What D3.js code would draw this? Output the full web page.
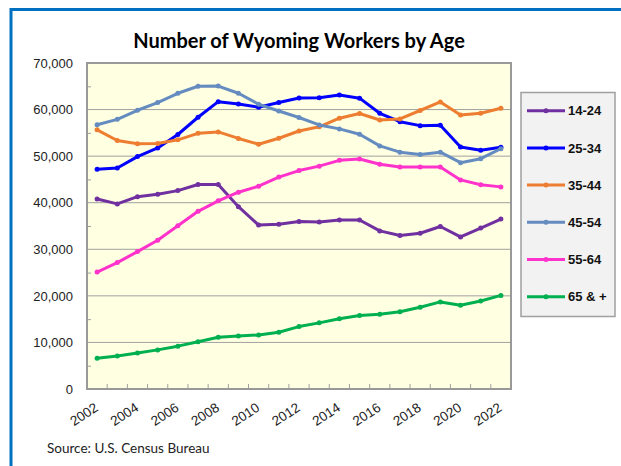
<!DOCTYPE html>
<html>
<head>
<meta charset="utf-8">
<script src="https://cdn.jsdelivr.net/npm/d3@7"></script>
<style>
  body { margin: 0; background: #fff; }
  svg { display: block; }
</style>
</head>
<body>
<svg id="chart" width="621" height="466"></svg>
<script>
// data
const years = [2002, 2003, 2004, 2005, 2006, 2007, 2008, 2009, 2010, 2011, 2012,
  2013, 2014, 2015, 2016, 2017, 2018, 2019, 2020, 2021, 2022];
const labelYears = [2002, 2004, 2006, 2008, 2010, 2012, 2014, 2016, 2018, 2020, 2022];
const yTickValues = [0, 10000, 20000, 30000, 40000, 50000, 60000, 70000];
const yMinorValues = [5000, 15000, 25000, 35000, 45000, 55000, 65000];

const seriesNames = ['14-24', '25-34', '35-44', '45-54', '55-64', '65 & +'];
const seriesColors = ['#7030a0', '#0000ff', '#ed7d31', '#658cc0', '#ff33cc', '#00b050'];

const age1424 = [40800, 39750, 41300, 41800, 42600, 43900, 43900, 39150, 35200, 35400, 35950,
  35850, 36300, 36300, 33950, 32950, 33450, 34900, 32650, 34550, 36500];
const age2534 = [47200, 47450, 49900, 51750, 54650, 58350, 61700, 61200, 60500, 61500, 62500,
  62550, 63150, 62450, 59200, 57400, 56550, 56650, 51950, 51250, 51900];
const age3544 = [55650, 53350, 52650, 52700, 53500, 54900, 55200, 53800, 52550, 53850, 55400,
  56300, 58150, 59150, 57750, 58000, 59800, 61650, 58850, 59200, 60300];
const age4554 = [56750, 57900, 59850, 61500, 63500, 65000, 65050, 63500, 61150, 59700, 58300,
  56700, 55850, 54700, 52200, 50850, 50350, 50850, 48600, 49450, 51600];
const age5564 = [25100, 27150, 29500, 31950, 35050, 38150, 40400, 42250, 43550, 45500, 46900,
  47850, 49100, 49400, 48250, 47650, 47650, 47650, 44900, 43850, 43400];
const age65 = [6600, 7100, 7750, 8400, 9200, 10150, 11100, 11400, 11600, 12200, 13400,
  14200, 15100, 15800, 16050, 16600, 17550, 18700, 18000, 18900, 20100];

const seriesValues = [age1424, age2534, age3544, age4554, age5564, age65];

const svg = d3.select('#chart');
const cs = {
  plot: { left: 87, right: 511, top: 63, bottom: 389 },
  font: '"Liberation Sans", Arial, sans-serif',
  grid: '#a0a0a0',
  legend: { x: 521, y: 92.5, w: 94, h: 224, first: 110.7, step: 37.2 },
};

const x = d3.scaleBand().domain(years).range([cs.plot.left, cs.plot.right]).padding(0);
const y = d3.scaleLinear().domain([0, 70000]).range([cs.plot.bottom, cs.plot.top]);
const cx = d => x(d) + x.bandwidth() / 2;

// outer blue frame
svg.append('rect')
  .attr('x', 11).attr('y', 9.5)
  .attr('width', 800).attr('height', 800)
  .attr('fill', 'none')
  .attr('stroke', '#0070c0')
  .attr('stroke-width', 3);

// title
svg.append('text')
  .attr('x', (cs.plot.left + cs.plot.right) / 2)
  .attr('y', 48)
  .attr('text-anchor', 'middle')
  .style('font-family', 'Lato, "Open Sans", sans-serif')
  .style('font-weight', 'bold')
  .style('font-size', '20px')
  .text('Number of Wyoming Workers by Age');

// plot background
svg.append('rect')
  .attr('x', cs.plot.left).attr('y', cs.plot.top)
  .attr('width', cs.plot.right - cs.plot.left)
  .attr('height', cs.plot.bottom - cs.plot.top)
  .attr('fill', '#ffffe1');

// gridlines
svg.append('g')
  .selectAll('line')
  .data(yTickValues.slice(1, -1))
  .join('line')
  .attr('x1', cs.plot.left).attr('x2', cs.plot.right)
  .attr('y1', d => y(d)).attr('y2', d => y(d))
  .attr('stroke', cs.grid)
  .attr('stroke-width', 1);

// y axis labels
const yAxis = svg.append('g')
  .attr('transform', `translate(${cs.plot.left},0)`)
  .call(d3.axisLeft(y).tickValues(yTickValues).tickSize(0).tickPadding(14)
    .tickFormat(d3.format(',')));
yAxis.select('.domain').remove();
yAxis.selectAll('text')
  .style('font-family', cs.font)
  .style('font-size', '13px')
  .attr('fill', '#222');

// minor y ticks (inside)
svg.append('g')
  .attr('transform', `translate(${cs.plot.left},0)`)
  .call(d3.axisRight(y).tickValues(yMinorValues).tickSize(4).tickFormat(''))
  .call(g => g.select('.domain').remove())
  .selectAll('line')
  .attr('stroke', cs.grid);

// x ticks at category boundaries (inside)
svg.append('g')
  .selectAll('line')
  .data(years.slice(1))
  .join('line')
  .attr('x1', d => x(d)).attr('x2', d => x(d))
  .attr('y1', cs.plot.bottom).attr('y2', cs.plot.bottom - 5)
  .attr('stroke', cs.grid);

// x labels
const xAxis = svg.append('g')
  .attr('transform', `translate(0,${cs.plot.bottom})`)
  .call(d3.axisBottom(x).tickValues(labelYears).tickSize(0).tickPadding(0));
xAxis.select('.domain').remove();
xAxis.selectAll('text')
  .style('font-family', cs.font)
  .style('font-size', '13.5px')
  .attr('fill', '#222')
  .attr('text-anchor', 'end')
  .attr('y', 0)
  .attr('dy', 0)
  .attr('transform', 'translate(2,21) rotate(-33)');

// plot frame
svg.append('rect')
  .attr('x', cs.plot.left).attr('y', cs.plot.top)
  .attr('width', cs.plot.right - cs.plot.left)
  .attr('height', cs.plot.bottom - cs.plot.top)
  .attr('fill', 'none')
  .attr('stroke', '#999')
  .attr('stroke-width', 2);

// series lines + markers
const line = d3.line().x((d, i) => cx(years[i])).y(d => y(d));
const series = svg.append('g')
  .selectAll('g')
  .data(seriesValues)
  .join('g')
  .attr('fill', (d, i) => seriesColors[i])
  .attr('stroke', (d, i) => seriesColors[i]);

series.append('path')
  .attr('d', d => line(d))
  .attr('fill', 'none')
  .attr('stroke-width', 3)
  .attr('stroke-linejoin', 'round');

series.selectAll('circle')
  .data(d => d)
  .join('circle')
  .attr('cx', (d, i) => cx(years[i]))
  .attr('cy', d => y(d))
  .attr('r', 2.5)
  .attr('stroke', 'none');

// legend
const lg = cs.legend;
svg.append('rect')
  .attr('x', lg.x).attr('y', lg.y)
  .attr('width', lg.w).attr('height', lg.h)
  .attr('fill', '#f2f2f2')
  .attr('stroke', '#a0a0a0')
  .attr('stroke-width', 1.5);

const items = svg.append('g')
  .selectAll('g')
  .data(seriesNames)
  .join('g')
  .attr('transform', (d, i) => `translate(0,${lg.first + i * lg.step})`);

items.append('line')
  .attr('x1', 527).attr('x2', 565)
  .attr('stroke', (d, i) => seriesColors[i])
  .attr('stroke-width', 3);

items.append('circle')
  .attr('cx', 546).attr('r', 2.5)
  .attr('fill', (d, i) => seriesColors[i]);

items.append('text')
  .attr('x', 568)
  .attr('dy', '0.36em')
  .style('font-family', cs.font)
  .style('font-weight', 'bold')
  .style('font-size', '13px')
  .attr('fill', '#111')
  .text(d => d);

// source note
svg.append('text')
  .attr('x', 47).attr('y', 453)
  .style('font-family', 'Lato, "Open Sans", sans-serif')
  .style('font-size', '13.5px')
  .attr('fill', '#222')
  .text('Source: U.S. Census Bureau');
</script>
</body>
</html>
